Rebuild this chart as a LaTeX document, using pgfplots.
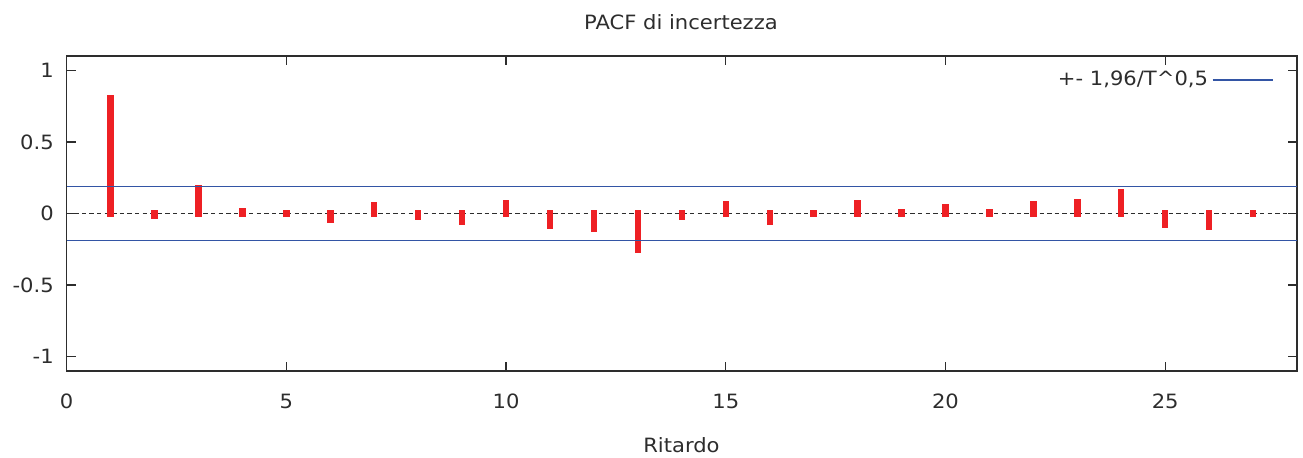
\documentclass[border=0pt]{standalone}
\usepackage{fontspec}
\setmainfont{DejaVu Sans}[FakeStretch=1.07]
\usepackage{pgfplots}
\pgfplotsset{compat=1.18}
\definecolor{barred}{RGB}{238,32,36}
\definecolor{bandblue}{RGB}{51,85,165}
\definecolor{axgray}{RGB}{45,45,45}

\begin{document}
\fontsize{9.85pt}{12pt}\selectfont
\begin{tikzpicture}
\useasboundingbox (-33.35pt,-43.5pt) rectangle (618.15pt,185.5pt);
\begin{axis}[
  at={(0pt,0pt)}, anchor=south west,
  scale only axis, width=615.15pt, height=157.5pt,
  xmin=0, xmax=28, ymin=-1.1, ymax=1.1,
  xtick={0,5,...,25}, ytick={-1,-0.5,0,0.5,1},
  tick align=inside, major tick length=4.5pt,
  axis line style={axgray, line width=0.6pt},
  tick style={axgray, line width=0.6pt},
  /pgf/number format/assume math mode=true,
  ticklabel style={text=axgray},
  xticklabel style={yshift=-8pt},
  yticklabel style={xshift=-3pt},
  every axis title shift=0pt,
  title={PACF di incertezza},
  title style={at={(axis description cs:0.4993,1.107)}, anchor=center, text=axgray, inner sep=0pt},
  xlabel={Ritardo},
  xlabel style={at={(axis description cs:0.4997,-0.235)}, anchor=center, text=axgray, inner sep=0pt},
  legend plot pos=right,
  legend image code/.code={\draw[#1] (1pt,0pt) -- (31pt,0pt);},
  legend style={at={(axis description cs:0.9859,0.924)}, anchor=east, draw=none, fill=none,
    text=axgray, font=\fontsize{9.85pt}{12pt}\selectfont},
]
% zero reference
\addplot[axgray, line width=0.65pt, dash pattern=on 2.2pt off 1.6pt, forget plot]
  coordinates {(0,0) (28,0)};
% partial autocorrelations, lags 1..27
\addplot[ycomb, barred, line width=3.2pt, line cap=rect, forget plot] coordinates {
  (1,0.806) (2,-0.014) (3,0.176) (4,0.017) (5,0.003) (6,-0.042) (7,0.059)
  (8,-0.023) (9,-0.056) (10,0.073) (11,-0.084) (12,-0.105) (13,-0.253)
  (14,-0.021) (15,0.068) (16,-0.056) (17,-0.005) (18,0.075) (19,0.010)
  (20,0.047) (21,0.007) (22,0.063) (23,0.077) (24,0.152) (25,-0.077)
  (26,-0.096) (27,0.005)
};
% significance bands
\addplot[bandblue, line width=0.6pt] coordinates {(0,0.19) (28,0.19)};
\addlegendentry{+- 1,96/T\textasciicircum 0,5}
\addplot[bandblue, line width=0.6pt, forget plot] coordinates {(0,-0.19) (28,-0.19)};
\end{axis}
\end{tikzpicture}
\end{document}
